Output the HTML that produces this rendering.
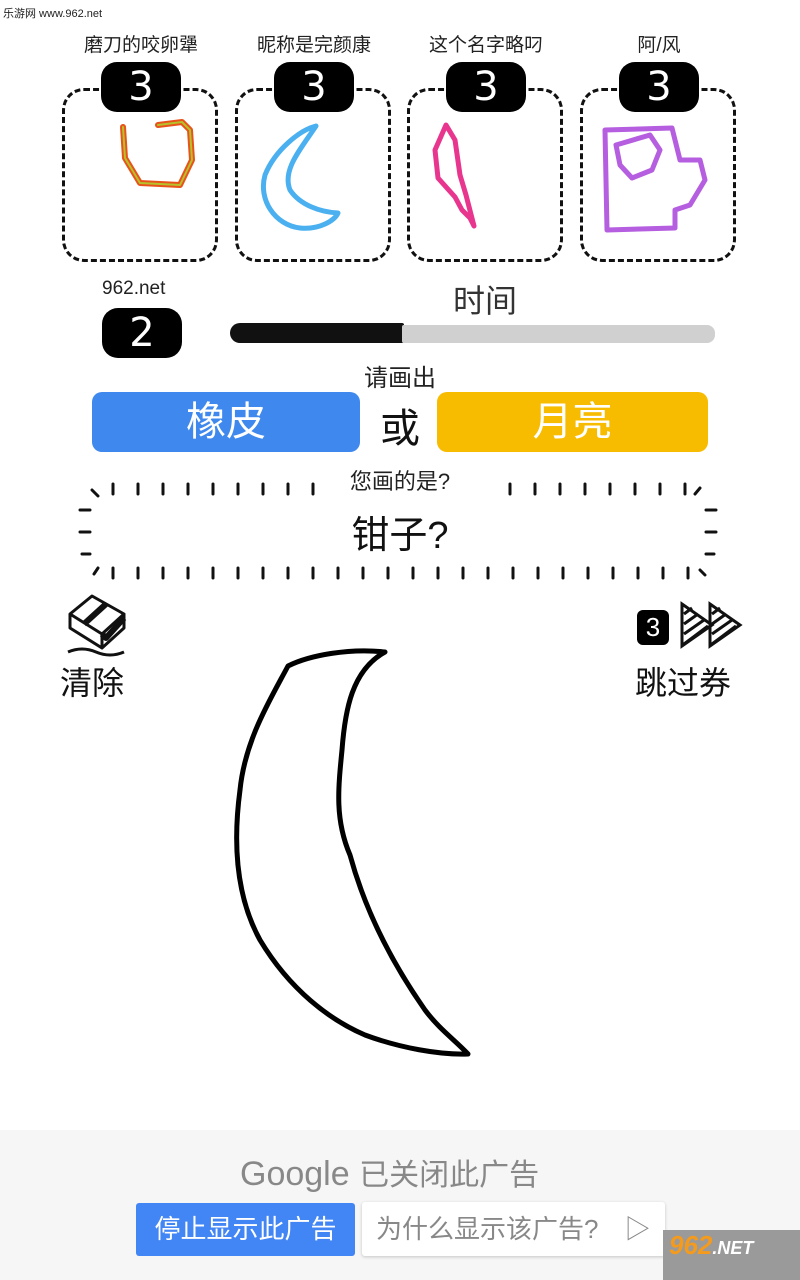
<!DOCTYPE html>
<html><head><meta charset="utf-8"><style>
body{margin:0;width:800px;height:1280px;position:relative;background:#fff;font-family:"Liberation Sans","Noto Sans CJK SC",sans-serif;overflow:hidden}
.a{position:absolute}
.lbl{position:absolute;font-size:19px;color:#222;text-align:center;width:180px}
.card{position:absolute;top:88px;width:156px;height:174px;border:3px dashed #111;border-radius:22px;box-sizing:border-box}
.badge{position:absolute;top:62px;width:80px;height:50px;background:#000;border-radius:16px;color:#fff;font-size:40px;text-align:center;line-height:50px;font-family:"DejaVu Sans",sans-serif}
</style></head><body>
<div class="a" style="left:3px;top:5px;font-size:11px;color:#222">乐游网 www.962.net</div>
<div class="lbl" style="left:51px;top:30px">磨刀的咬卵犟</div>
<div class="lbl" style="left:224px;top:30px">昵称是完颜康</div>
<div class="lbl" style="left:396px;top:30px">这个名字略叼</div>
<div class="lbl" style="left:569px;top:30px">阿/风</div>
<div class="card" style="left:62px"></div>
<div class="card" style="left:235px"></div>
<div class="card" style="left:407px"></div>
<div class="card" style="left:580px"></div>
<div class="badge" style="left:101px">3</div>
<div class="badge" style="left:274px">3</div>
<div class="badge" style="left:446px">3</div>
<div class="badge" style="left:619px">3</div>
<svg class="a" style="left:0;top:0" width="800" height="280" fill="none" stroke-linecap="round" stroke-linejoin="round">
<path d="M123 127 L125 158 L140 183 L180 185 L192 160 L190 130 L182 122 L158 125" stroke="#e8531c" stroke-width="6"/>
<path d="M123 127 L125 158 L140 183 L180 185 L192 160 L190 130 L182 122 L158 125" stroke="#b5c22a" stroke-width="2"/>
<path d="M316 126 C300 130 275 150 265 175 C258 200 275 225 300 228 C320 230 335 220 338 213 C320 212 300 205 290 190 C282 170 300 150 316 126Z" stroke="#4ab0f0" stroke-width="5"/>
<path d="M446 125 L435 150 L438 178 L455 197 L462 210 L470 218 L474 226 L466 195 L460 175 L455 140 Z" stroke="#e8358e" stroke-width="5"/>
<path d="M605 130 L672 128 L680 160 L700 160 L705 180 L690 205 L675 210 L675 228 L607 230 Z M616 145 L650 135 L660 150 L652 170 L632 178 L620 165 Z" stroke="#b55ee0" stroke-width="5"/>
</svg>
<div class="a" style="left:102px;top:278px;font-size:19px;color:#222">962.net</div>
<div class="a" style="left:102px;top:308px;width:80px;height:50px;background:#000;border-radius:16px;color:#fff;font-size:40px;text-align:center;line-height:50px;font-family:'DejaVu Sans',sans-serif">2</div>
<div class="a" style="left:440px;top:276px;width:90px;text-align:center;font-size:32px;color:#333">时间</div>
<div class="a" style="left:230px;top:323px;width:174px;height:20px;background:#111;border-radius:10px 2px 2px 10px"></div>
<div class="a" style="left:402px;top:325px;width:313px;height:18px;background:#d0d0d0;border-radius:2px 8px 8px 2px"></div>
<div class="a" style="left:300px;top:358px;width:200px;text-align:center;font-size:24px;color:#222">请画出</div>
<div class="a" style="left:92px;top:392px;width:268px;height:60px;background:#3f88ee;border-radius:10px;color:#fff;font-size:40px;text-align:center;line-height:60px">橡皮</div>
<div class="a" style="left:370px;top:396px;width:60px;text-align:center;font-size:40px;color:#111">或</div>
<div class="a" style="left:437px;top:392px;width:271px;height:60px;background:#f7bb00;border-radius:10px;color:#fff;font-size:40px;text-align:center;line-height:60px">月亮</div>
<div class="a" style="left:82px;top:485px;width:634px;height:92px;border:4px dotted #111;border-width:12px 12px;border-style:dashed;box-sizing:border-box;border-radius:30px;border-color:transparent"></div>
<svg class="a" style="left:0;top:470px" width="800" height="120" stroke="#111" stroke-width="3" stroke-linecap="round">
<g id="t"></g>
<path d="M113 14v10M138 14v10M163 14v10M188 14v10M213 14v10M238 14v10M263 14v10M288 14v10M313 14v10M510 14v10M535 14v10M560 14v10M585 14v10M610 14v10M635 14v10M660 14v10M685 14v10M92 20l6 6M700 18l-5 6M113 98v10M138 98v10M163 98v10M188 98v10M213 98v10M238 98v10M263 98v10M288 98v10M313 98v10M338 98v10M363 98v10M388 98v10M413 98v10M438 98v10M463 98v10M488 98v10M513 98v10M538 98v10M563 98v10M588 98v10M613 98v10M638 98v10M663 98v10M688 98v10M98 98l-4 6M700 100l5 5M80 40h10M80 62h10M82 84h8M706 40h10M706 62h10M706 84h8"/>
</svg>
<div class="a" style="left:300px;top:464px;width:200px;text-align:center;font-size:22px;color:#222">您画的是?</div>
<div class="a" style="left:250px;top:504px;width:300px;text-align:center;font-size:38px;color:#111">钳子?</div>
<svg class="a" style="left:62px;top:592px" width="70" height="65" fill="none" stroke="#111" stroke-width="3" stroke-linejoin="round">
<path d="M8 22 L30 4 L62 22 L40 42 Z M8 22 L8 36 L40 56 L40 42 M40 56 L62 36 L62 22"/>
<path d="M22 32 L44 12 M40 42 L44 46 L62 26" stroke-width="6"/>
<path d="M6 60 Q20 54 34 60 T62 60"/>
</svg>
<div class="a" style="left:60px;top:658px;font-size:32px;color:#111">清除</div>
<div class="a" style="left:637px;top:610px;width:32px;height:35px;background:#000;border-radius:6px;color:#fff;font-size:26px;text-align:center;line-height:35px">3</div>
<svg class="a" style="left:678px;top:600px" width="66" height="50" stroke="#111" stroke-width="3" fill="none">
<path d="M4 4 L34 25 L4 46 Z M32 4 L62 25 L32 46 Z"/>
<path d="M6 14l8-6M6 24l14-10M6 34l20-14M6 44l24-18M34 14l8-6M34 24l14-10M34 34l20-14M34 44l24-18"/>
</svg>
<div class="a" style="left:635px;top:658px;font-size:32px;color:#111">跳过券</div>
<svg class="a" style="left:0;top:640px" width="800" height="430" fill="none" stroke="#000" stroke-width="5" stroke-linecap="round" stroke-linejoin="round">
<path d="M385 12 C350 8 310 15 288 26 C270 60 245 100 240 150 C232 210 238 260 260 300 C290 350 330 380 365 395 C400 408 440 415 468 414 C455 400 440 390 425 370 C390 320 365 270 350 215 C335 180 338 150 342 110 C345 70 352 30 385 12Z"/>
</svg>
<div class="a" style="left:0;top:1130px;width:800px;height:150px;background:#f6f6f6"></div>
<div class="a" style="left:240px;top:1150px;font-size:34px;color:#888">Google <span style="font-size:30px">已关闭此广告</span></div>
<div class="a" style="left:136px;top:1203px;width:219px;height:53px;background:#4285f4;border-radius:3px;color:#fff;font-size:26px;text-align:center;line-height:53px">停止显示此广告</div>
<div class="a" style="left:362px;top:1202px;width:303px;height:54px;background:#fff;border-radius:3px;box-shadow:0 1px 3px rgba(0,0,0,.2);color:#888;font-size:26px;line-height:54px;padding-left:14px;box-sizing:border-box">为什么显示该广告?　▷</div>
<div class="a" style="left:663px;top:1230px;width:137px;height:50px;background:#9a9a9a;color:#f49a1d;font-size:26px;font-weight:bold;font-style:italic;padding-left:6px;box-sizing:border-box">962<span style="color:#fff;font-size:18px">.NET</span></div>
</body></html>
